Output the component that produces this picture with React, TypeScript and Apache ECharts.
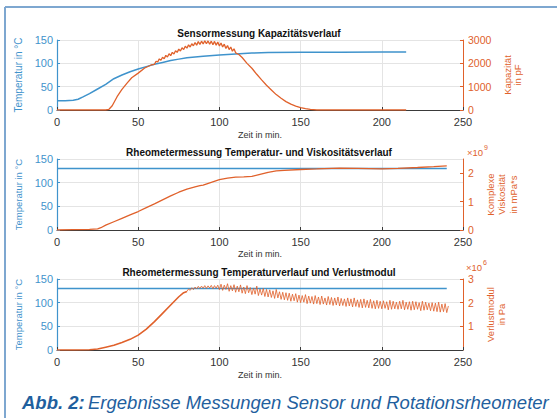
import React, { useEffect, useRef } from "react";
import * as echarts from "echarts";

// ---------- data ----------
const xTicks = [0, 50, 100, 150, 200, 250];

// Plot 1: Sensormessung
const sensorTemp: number[][] = [
  [0, 20], [5, 20], [10, 21], [13, 23], [16, 28], [20, 35], [25, 45], [30, 55], [35, 67], [40, 75],
  [45, 82], [50, 88], [55, 93], [60, 98], [65, 102], [70, 106], [75, 109], [80, 112], [85, 113.5],
  [90, 115], [100, 118], [110, 120], [120, 122], [130, 123], [150, 124], [175, 124], [200, 124.5], [215, 124.5],
];
// capacitance in pF: rising flank, noisy peak (1-min samples from minute 60), falling flank
const capRise: number[][] = [
  [0, 0], [30, 0], [32, 30], [34, 180], [37, 570], [40, 880], [43, 1140], [46, 1380], [50, 1580], [54, 1800],
  [58, 1930],
];
const capPeakStart = 60;
const capPeak: number[] = [
  1960, 2090, 2060, 2190, 2130, 2260, 2200, 2340, 2270, 2410,
  2330, 2470, 2400, 2540, 2470, 2610, 2530, 2670, 2590, 2730,
  2650, 2790, 2700, 2840, 2750, 2890, 2780, 2930, 2810, 2950,
  2830, 2970, 2840, 2960, 2820, 2950, 2800, 2940, 2780, 2910,
  2740, 2870, 2700, 2820, 2640, 2760, 2590, 2700, 2520, 2620, 2450,
];
const capFall: number[][] = [
  [112, 2380], [114, 2250], [117, 2000], [120, 1790], [123, 1530], [126, 1290], [129, 1060],
  [132, 860], [135, 660], [138, 500], [141, 360], [144, 250], [147, 170], [150, 105], [153, 60], [156, 25],
  [160, 0], [215, 0],
];

// Plot 2: Rheometer Temperatur / Viskosität (x10^9 mPa*s)
const rheoTemp2: number[][] = [[0, 130], [240, 130]];
const viscosity: number[][] = [
  [0, 0], [10, 0.01], [20, 0.02], [25, 0.04], [27, 0.08], [30, 0.17], [35, 0.29], [40, 0.41], [45, 0.53],
  [50, 0.65], [55, 0.79], [60, 0.92], [65, 1.06], [70, 1.2], [75, 1.33], [80, 1.44], [85, 1.52], [88, 1.56],
  [90, 1.58], [95, 1.68], [100, 1.77], [105, 1.83], [110, 1.86], [115, 1.87], [120, 1.89], [125, 1.96],
  [130, 2.03], [135, 2.08], [140, 2.1], [150, 2.13], [160, 2.15], [174, 2.18], [185, 2.17], [200, 2.15],
  [210, 2.17], [222, 2.2], [232, 2.23], [240, 2.26],
];

// Plot 3: Rheometer Temperatur / Verlustmodul (x10^6 Pa)
const rheoTemp3: number[][] = [[0, 130], [240, 130]];
const lossRise: number[][] = [
  [0, 0], [10, 0], [20, 0.01], [25, 0.04], [30, 0.12], [35, 0.2], [40, 0.32], [45, 0.45], [50, 0.63],
  [55, 0.88], [60, 1.2], [65, 1.55], [70, 1.9], [75, 2.25], [78, 2.42], [80, 2.47],
];
const lossNoisyStart = 80; // 1-min samples
const lossNoisy: number[] = [
  2.47, 2.58, 2.52, 2.63, 2.55, 2.66, 2.58, 2.69, 2.6, 2.7,
  2.61, 2.72, 2.6, 2.71, 2.62, 2.73, 2.59, 2.72, 2.61, 2.74,
  2.55, 2.78, 2.52, 2.74, 2.56, 2.8, 2.48, 2.72, 2.5, 2.76,
  2.44, 2.7, 2.46, 2.75, 2.4, 2.66, 2.38, 2.72, 2.42, 2.64,
  2.34, 2.62, 2.36, 2.7, 2.3, 2.58, 2.32, 2.6, 2.26, 2.56,
  2.24, 2.54, 2.22, 2.5, 2.18, 2.56, 2.2, 2.46, 2.14, 2.44,
  2.12, 2.42, 2.1, 2.4, 2.06, 2.36, 2.08, 2.38, 2.02, 2.32,
  2.0, 2.3, 2.02, 2.34, 1.96, 2.28, 1.98, 2.26, 1.94, 2.3,
  1.96, 2.24, 1.92, 2.28, 1.94, 2.2, 1.9, 2.26, 1.92, 2.22,
  1.88, 2.2, 1.9, 2.24, 1.86, 2.18, 1.88, 2.16, 1.84, 2.2,
  1.86, 2.16, 1.82, 2.2, 1.84, 2.12, 1.8, 2.14, 1.78, 2.16,
  1.8, 2.1, 1.78, 2.14, 1.76, 2.08, 1.74, 2.1, 1.76, 2.06,
  1.74, 2.08, 1.76, 2.04, 1.7, 2.1, 1.72, 2.06, 1.74, 2.02,
  1.72, 2.06, 1.74, 2.1, 1.7, 2.02, 1.72, 2.04, 1.68, 2.06,
  1.7, 2.04, 1.72, 2.0, 1.66, 2.06, 1.68, 2.02, 1.7, 1.98,
  1.66, 2.0, 1.64, 1.98, 1.62, 2.02, 1.6, 1.94, 1.62, 1.96, 1.58, 1.86,
];

const titles = [
  "Sensormessung Kapazitätsverlauf",
  "Rheometermessung Temperatur- und Viskositätsverlauf",
  "Rheometermessung Temperaturverlauf und Verlustmodul",
];
const leftName = "Temperatur in °C";
const rightNames = ["Kapazität\nin pF", "Komplexe\nViskosität\nin mPa*s", "Verlustmodul\nin Pa"];
const exponents = ["9", "6"];
const xName = "Zeit in min.";
const captionBold = "Abb. 2:";
const captionText = "Ergebnisse Messungen Sensor und Rotationsrheometer";

// ---------- styling ----------
const BLUE = "#3f93cc";
const ORANGE = "#e0612b";
const CAPTION = "#1f5f9e";
const GRID = "#e4e4e4";
const AXIS = "#3a3a3a";
const FONT = "'Liberation Sans', Arial, sans-serif";

const grids = [
  { left: 57, right: 94, top: 40, height: 70 },
  { left: 57, right: 94, top: 159, height: 71 },
  { left: 57, right: 94, top: 279, height: 71 },
];

export default function App() {
  const ref = useRef<HTMLDivElement>(null);
  useEffect(() => {
    if (!ref.current) return;
    const chart = echarts.init(ref.current, undefined, { renderer: "svg" });

    const sensorCap = [
      ...capRise,
      ...capPeak.map((v, k) => [capPeakStart + k, v]),
      ...capFall,
    ];
    const lossNoisyPts = lossNoisy.map((v, k) => [lossNoisyStart + k, v]);

    const xAxes = grids.map((_, i) => ({
      type: "value",
      gridIndex: i,
      min: xTicks[0],
      max: xTicks[xTicks.length - 1],
      interval: xTicks[1] - xTicks[0],
      axisLine: { show: true, lineStyle: { color: AXIS, width: 1 } },
      axisTick: { show: true, inside: true, length: 3, lineStyle: { color: AXIS } },
      axisLabel: { color: "#333", fontSize: 11, margin: 6, fontFamily: FONT },
      splitLine: { show: true, lineStyle: { color: GRID, width: 1 } },
      name: xName,
      nameLocation: "middle",
      nameGap: [20, 19, 20][i],
      nameTextStyle: { color: "#333", fontSize: 9, fontFamily: FONT },
    }));

    const leftAxis = (i: number) => ({
      type: "value",
      gridIndex: i,
      position: "left",
      min: 0,
      max: 150,
      interval: 50,
      axisLine: { show: true, lineStyle: { color: BLUE, width: 1.2 } },
      axisTick: { show: true, inside: true, length: 3, lineStyle: { color: BLUE } },
      axisLabel: { color: BLUE, fontSize: 11, margin: 4, fontFamily: FONT },
      splitLine: { show: true, lineStyle: { color: GRID, width: 1 } },
      name: leftName,
      nameLocation: "middle",
      nameGap: 27,
      nameTextStyle: { color: BLUE, fontSize: i === 0 ? 10 : 9.5, fontFamily: FONT },
    });

    const rightAxis = (i: number, max: number, interval: number, gap: number, lh: number, extra: any) => ({
      type: "value",
      gridIndex: i,
      position: "right",
      min: 0,
      max,
      interval,
      axisLine: { show: true, lineStyle: { color: ORANGE, width: 1 } },
      axisTick: { show: true, inside: true, length: 3, lineStyle: { color: ORANGE } },
      axisLabel: {
        color: ORANGE,
        fontSize: 10.5,
        lineHeight: 10,
        margin: 5,
        fontFamily: FONT,
        formatter: (v: number) => String(v),
        ...extra,
      },
      splitLine: { show: false },
      name: rightNames[i],
      nameLocation: "middle",
      nameGap: gap,
      nameTextStyle: { color: ORANGE, fontSize: 9.5, lineHeight: lh, fontFamily: FONT },
    });

    const yAxes = [
      leftAxis(0),
      rightAxis(0, 3000, 1000, 35, 10, {}),
      leftAxis(1),
      rightAxis(1, 2.5, 1, 17, 11.5, { showMaxLabel: false }),
      leftAxis(2),
      rightAxis(2, 3, 1, 17, 11, { showMinLabel: false }),
    ];

    const line = (data: number[][], xi: number, yi: number, color: string, width: number, opacity = 1) => ({
      type: "line",
      xAxisIndex: xi,
      yAxisIndex: yi,
      data,
      showSymbol: false,
      symbol: "none",
      lineStyle: { color, width, opacity },
      itemStyle: { color },
    });

    const series = [
      line(sensorTemp, 0, 0, BLUE, 1.5),
      line(sensorCap, 0, 1, ORANGE, 1.3),
      line(rheoTemp2, 1, 2, BLUE, 1.5),
      line(viscosity, 1, 3, ORANGE, 1.3),
      line(rheoTemp3, 2, 4, BLUE, 1.5),
      line(lossRise, 2, 5, ORANGE, 1.6),
      line(lossNoisyPts, 2, 5, ORANGE, 0.9, 0.9),
    ];

    const titleY = [33, 152, 272];
    const expPos = [
      { x: 467, y: 152 },
      { x: 466, y: 267 },
    ];
    const graphic: any[] = [
      { type: "line", shape: { x1: 5, y1: 7, x2: 557, y2: 7 }, style: { stroke: "#7ea7d0", lineWidth: 2 } },
      { type: "line", shape: { x1: 5, y1: 7, x2: 5, y2: 418 }, style: { stroke: "#7ea7d0", lineWidth: 2 } },
      ...titles.map((t, i) => ({
        type: "text",
        x: 259,
        y: titleY[i],
        style: {
          text: t,
          fill: "#111",
          font: `bold 10px ${FONT}`,
          textAlign: "center",
          textVerticalAlign: "middle",
        },
      })),
      ...exponents.flatMap((e, i) => [
        {
          type: "text",
          x: expPos[i].x,
          y: expPos[i].y,
          style: { text: "×10", fill: ORANGE, font: `9.5px ${FONT}`, textVerticalAlign: "middle" },
        },
        {
          type: "text",
          x: expPos[i].x + 17,
          y: expPos[i].y - 5,
          style: { text: e, fill: ORANGE, font: `7px ${FONT}`, textVerticalAlign: "middle" },
        },
      ]),
      {
        type: "text",
        x: 22,
        y: 402,
        style: {
          text: `{b|${captionBold}} {n|${captionText}}`,
          textVerticalAlign: "middle",
          rich: {
            b: { fontStyle: "italic", fontWeight: "bold", fontSize: 18.5, fill: CAPTION, color: CAPTION, fontFamily: FONT },
            n: { fontStyle: "italic", fontSize: 18.5, fill: CAPTION, color: CAPTION, fontFamily: FONT },
          },
        },
      },
    ];

    chart.setOption({
      animation: false,
      backgroundColor: "#ffffff",
      textStyle: { fontFamily: FONT },
      grid: grids,
      xAxis: xAxes,
      yAxis: yAxes,
      series,
      graphic,
    });
    return () => chart.dispose();
  }, []);

  return (
    <div
      ref={ref}
      style={{ position: "absolute", left: 0, top: 0, width: 557, height: 418 }}
    />
  );
}
